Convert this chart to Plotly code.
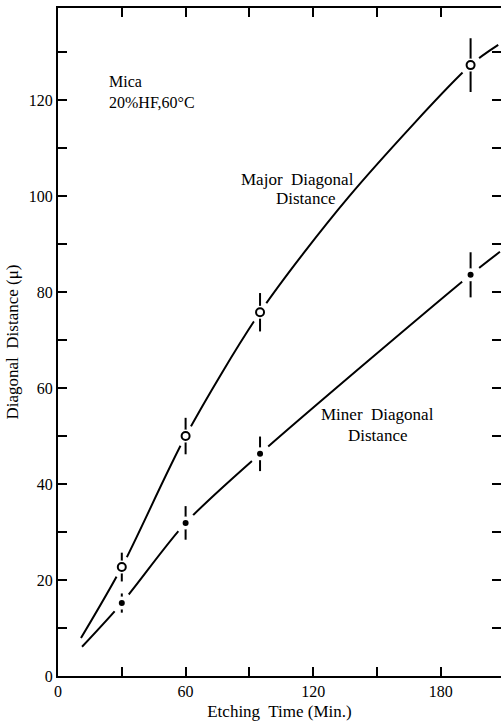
import plotly.graph_objects as go

# Measured data points (Etching time in min, diagonal distance in micron)
time_pts = [30, 60, 95, 194]
major_vals = [22.7, 50.0, 75.8, 127.3]
major_err = [3.0, 3.8, 4.0, 5.6]
minor_vals = [15.2, 31.9, 46.3, 83.6]
minor_err = [2.0, 3.5, 3.6, 4.7]

# Drawn curves
major_curve_x = [10.8, 30, 60, 95, 137, 194, 207]
major_curve_y = [7.9, 22.7, 50.0, 75.8, 100.0, 127.3, 131.5]
minor_curve_x = [11.3, 30, 60, 95, 194, 207.8]
minor_curve_y = [6.1, 15.2, 31.9, 46.3, 83.6, 88.4]

x_tickvals = [0, 30, 60, 90, 120, 150, 180, 210]
x_ticktext = ["0", "", "60", "", "120", "", "180", ""]
y_tickvals = list(range(0, 140, 10))
y_ticktext = [str(v) if v % 20 == 0 else "" for v in y_tickvals]

FONT = "Liberation Serif"
fig = go.Figure()

for cx, cy in [(major_curve_x, major_curve_y), (minor_curve_x, minor_curve_y)]:
    fig.add_trace(go.Scatter(x=cx, y=cy, mode="lines",
                             line=dict(color="black", width=2, shape="spline", smoothing=0.8),
                             hoverinfo="skip", showlegend=False))

# white masks creating gaps in curves around the points
for vals in [major_vals, minor_vals]:
    fig.add_trace(go.Scatter(x=time_pts, y=vals, mode="markers",
                             marker=dict(color="white", size=22, line=dict(width=0)),
                             hoverinfo="skip", showlegend=False))

# error bars with small white gap around points
for vals, err in [(major_vals, major_err), (minor_vals, minor_err)]:
    fig.add_trace(go.Scatter(x=time_pts, y=vals, mode="markers",
                             marker=dict(color="white", size=13, line=dict(width=0)),
                             error_y=dict(type="data", array=err, visible=True,
                                          color="black", thickness=2, width=0),
                             hoverinfo="skip", showlegend=False))

fig.add_trace(go.Scatter(x=time_pts, y=major_vals, mode="markers",
                         marker=dict(symbol="circle", color="white", size=8,
                                     line=dict(color="black", width=2)),
                         name="Major Diagonal Distance", showlegend=False))
fig.add_trace(go.Scatter(x=time_pts, y=minor_vals, mode="markers",
                         marker=dict(symbol="circle", color="black", size=6,
                                     line=dict(width=0)),
                         name="Miner Diagonal Distance", showlegend=False))

ann_font = dict(family=FONT, size=17, color="black")
fig.add_annotation(x=23.0, y=121.8, text="Mica<br>20%HF,60°C", showarrow=False,
                   xanchor="left", yanchor="middle", align="left",
                   font=dict(family=FONT, size=16, color="black"))
fig.add_annotation(x=112.4, y=103.5, text="Major  Diagonal", showarrow=False,
                   xanchor="center", yanchor="middle", font=ann_font)
fig.add_annotation(x=116.6, y=99.6, text="Distance", showarrow=False,
                   xanchor="center", yanchor="middle", font=ann_font)
fig.add_annotation(x=150.0, y=54.4, text="Miner  Diagonal", showarrow=False,
                   xanchor="center", yanchor="middle", font=ann_font)
fig.add_annotation(x=150.0, y=50.2, text="Distance", showarrow=False,
                   xanchor="center", yanchor="middle", font=ann_font)

axis_common = dict(showgrid=False, zeroline=False, showline=True, linecolor="black",
                   linewidth=2, mirror="ticks", ticks="inside", ticklen=9,
                   tickwidth=2, tickcolor="black", automargin=False,
                   tickfont=dict(family=FONT, size=16, color="black"))

fig.update_xaxes(range=[0, 208.3], tickmode="array", tickvals=x_tickvals,
                 ticktext=x_ticktext,
                 title=dict(text="Etching  Time (Min.)", standoff=6,
                            font=dict(family=FONT, size=17, color="black")),
                 **axis_common)
fig.update_yaxes(range=[0, 139.2], tickmode="array", tickvals=y_tickvals,
                 ticktext=y_ticktext,
                 title=dict(text="Diagonal  Distance (μ)", standoff=6,
                            font=dict(family=FONT, size=17, color="black")),
                 **axis_common)

fig.update_layout(width=501, height=722, margin=dict(l=58, r=0, t=8, b=46),
                  paper_bgcolor="white", plot_bgcolor="white",
                  font=dict(family=FONT, color="black"))

fig.write_html("out.html", config={"displayModeBar": False},
               post_script="document.body.style.margin='0px';document.body.style.overflow='hidden';")
